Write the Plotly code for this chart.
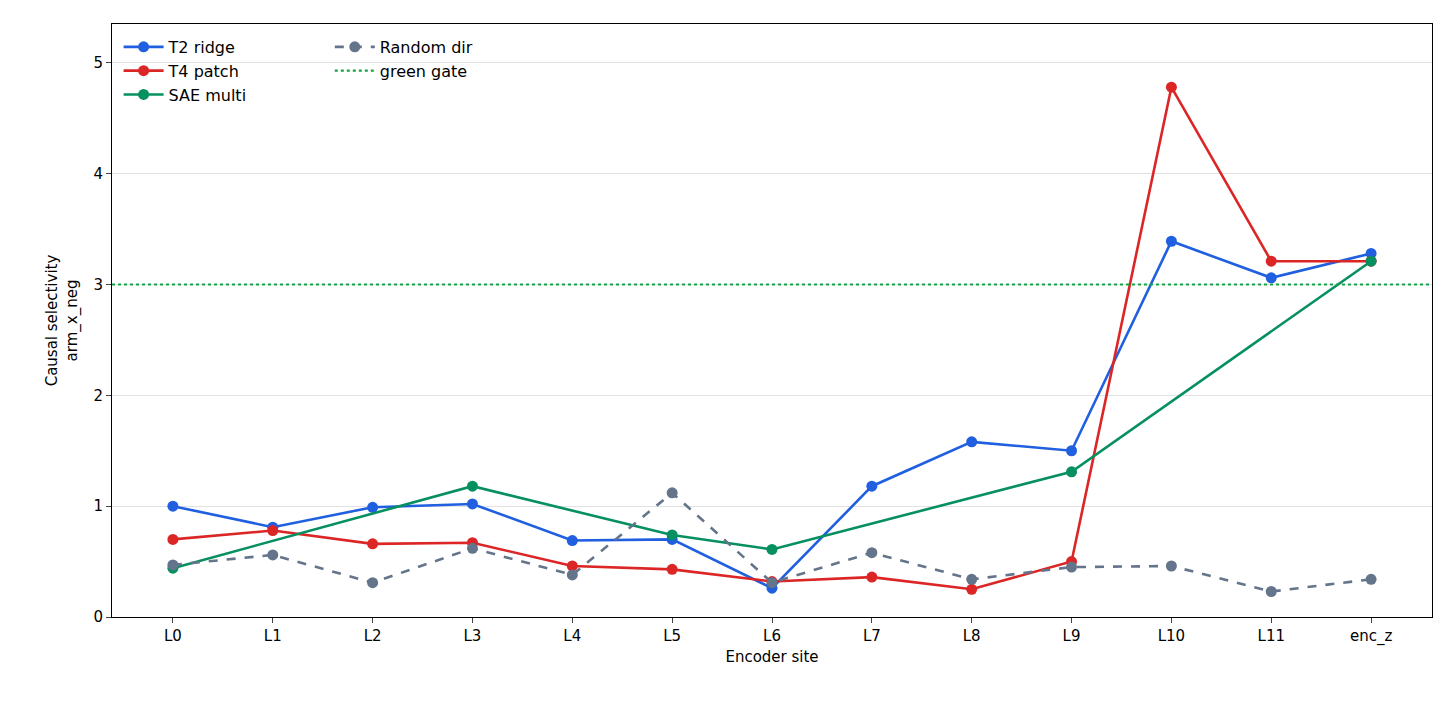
import plotly.graph_objects as go

sites = ["L0", "L1", "L2", "L3", "L4", "L5", "L6", "L7", "L8", "L9", "L10", "L11", "enc_z"]
t2_ridge = [1.00, 0.81, 0.99, 1.02, 0.69, 0.70, 0.26, 1.18, 1.58, 1.50, 3.39, 3.06, 3.28]
t4_patch = [0.70, 0.78, 0.66, 0.67, 0.46, 0.43, 0.32, 0.36, 0.25, 0.50, 4.78, 3.21, 3.21]
sae_multi = [0.44, None, None, 1.18, None, 0.74, 0.61, None, None, 1.31, None, None, 3.21]
random_dir = [0.47, 0.56, 0.31, 0.62, 0.38, 1.12, 0.31, 0.58, 0.34, 0.45, 0.46, 0.23, 0.34]
gate = 3.0

x = list(range(len(sites)))
fig = go.Figure()

def line(y, name, color, dash="solid", legend="legend"):
    fig.add_trace(go.Scatter(
        x=x, y=y, name=name, mode="lines+markers", connectgaps=True,
        line=dict(color=color, width=2.6, dash=dash),
        marker=dict(size=11, color=color), legend=legend,
    ))

line(t2_ridge, "T2 ridge", "#1f5fe0")
line(t4_patch, "T4 patch", "#dc2626")
line(sae_multi, "SAE multi", "#068f5f")
line(random_dir, "Random dir", "#64748b", dash="dash", legend="legend2")
fig.add_trace(go.Scatter(
    x=[-0.61, 12.61], y=[gate, gate], name="green gate", mode="lines",
    line=dict(color="#16a34a", width=2.2, dash="dot"), legend="legend2",
))

legend_style = dict(yanchor="top", y=0.99, xanchor="left", bgcolor="rgba(255,255,255,0)",
                    font=dict(size=16), tracegroupgap=0, itemwidth=40)
fig.update_layout(
    width=1456, height=712,
    paper_bgcolor="white", plot_bgcolor="white",
    font=dict(family="DejaVu Sans", size=15, color="black"),
    margin=dict(l=104, r=32, t=16, b=103),
    legend=dict(x=0.005, **legend_style),
    legend2=dict(x=0.165, **legend_style),
    xaxis=dict(
        range=[-0.61, 12.61], tickvals=x, ticktext=sites,
        title=dict(text="Encoder site", standoff=6, font=dict(size=15)),
        tickfont=dict(size=15),
        showline=True, mirror=True, linecolor="black", linewidth=1,
        ticks="outside", ticklen=5, showgrid=False, zeroline=False,
    ),
    yaxis=dict(
        range=[0, 5.35], tickvals=[0, 1, 2, 3, 4, 5],
        title=dict(text="Causal selectivity<br>arm_x_neg", standoff=12, font=dict(size=15)),
        tickfont=dict(size=15),
        showline=True, mirror=True, linecolor="black", linewidth=1,
        ticks="outside", ticklen=5, showgrid=True, gridcolor="#e2e2e2", zeroline=False,
    ),
)

fig.write_html("out.html")
